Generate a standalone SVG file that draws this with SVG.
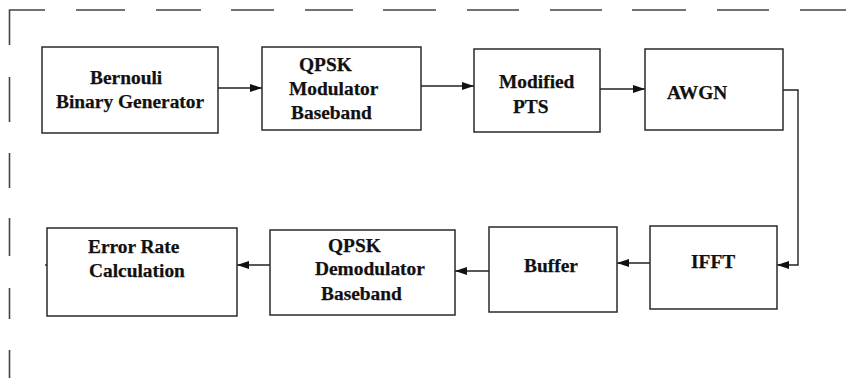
<svg xmlns="http://www.w3.org/2000/svg" width="846" height="378" viewBox="0 0 846 378">
<style>
.box{fill:#fff;stroke:#2a2a2a;stroke-width:1.5}
.frame{stroke:#444;stroke-width:1.6;fill:none}
.wire{stroke:#222;stroke-width:1.4;fill:none}
text{font-family:"Liberation Serif","Times New Roman",serif;font-weight:bold;font-size:19.4px;fill:#111;stroke:#111;stroke-width:0.25}
</style>
<defs>
<marker id="arr" viewBox="0 0 12 8" refX="12" refY="4" markerWidth="12" markerHeight="8" markerUnits="userSpaceOnUse" orient="auto">
<path d="M0,0 L12,4 L0,8 Z" fill="#111"/>
</marker>
</defs>
<rect width="846" height="378" fill="#fff"/>
<g id="frame">
<path class="frame" d="M9.5,45 V10 H45 M76,10 H125 M156,10 H201 M231,10 H274 M305,10 H353 M383,10 H436 M467,10 H519 M550,10 H602 M632,10 H686 M717,10 H769 M800,10 H846 M9.5,77 V122 M9.5,153 V188 M9.5,218 V256 M9.5,288 V319 M9.5,350 V378"/>
</g>
<g id="connectors">
<path class="wire" d="M218,88 H262" marker-end="url(#arr)"/>
<path class="wire" d="M421,86 H474" marker-end="url(#arr)"/>
<path class="wire" d="M600,89 H645" marker-end="url(#arr)"/>
<path class="wire" d="M783,90 H798 V265 H777" marker-end="url(#arr)"/>
<path class="wire" d="M650,263 H617" marker-end="url(#arr)"/>
<path class="wire" d="M489,271 H455" marker-end="url(#arr)"/>
<path class="wire" d="M270,265 H237" marker-end="url(#arr)"/>
<path class="wire" d="M45,265 H49"/>
</g>
<g id="bernoulli">
<rect class="box" x="42" y="47" width="176" height="86"/>
<text x="90" y="84">Bernouli</text>
<text x="56" y="108">Binary Generator</text>
</g>
<g id="qpsk-mod">
<rect class="box" x="262" y="47" width="159" height="83"/>
<text x="299" y="71">QPSK</text>
<text x="289" y="95">Modulator</text>
<text x="291" y="119">Baseband</text>
</g>
<g id="modified-pts">
<rect class="box" x="474" y="49" width="126" height="83"/>
<text x="499" y="88">Modified</text>
<text x="513" y="113">PTS</text>
</g>
<g id="awgn">
<rect class="box" x="645" y="49" width="138" height="81"/>
<text x="667" y="99">AWGN</text>
</g>
<g id="ifft">
<rect class="box" x="650" y="226" width="127" height="83"/>
<text x="691" y="268">IFFT</text>
</g>
<g id="buffer">
<rect class="box" x="489" y="227" width="128" height="85"/>
<text x="524" y="272">Buffer</text>
</g>
<g id="qpsk-demod">
<rect class="box" x="270" y="230" width="185" height="85"/>
<text x="328" y="252">QPSK</text>
<text x="315" y="275">Demodulator</text>
<text x="321" y="300">Baseband</text>
</g>
<g id="error-rate">
<rect class="box" x="47" y="228" width="190" height="88"/>
<text x="88" y="253">Error Rate</text>
<text x="89" y="277">Calculation</text>
</g>
</svg>
